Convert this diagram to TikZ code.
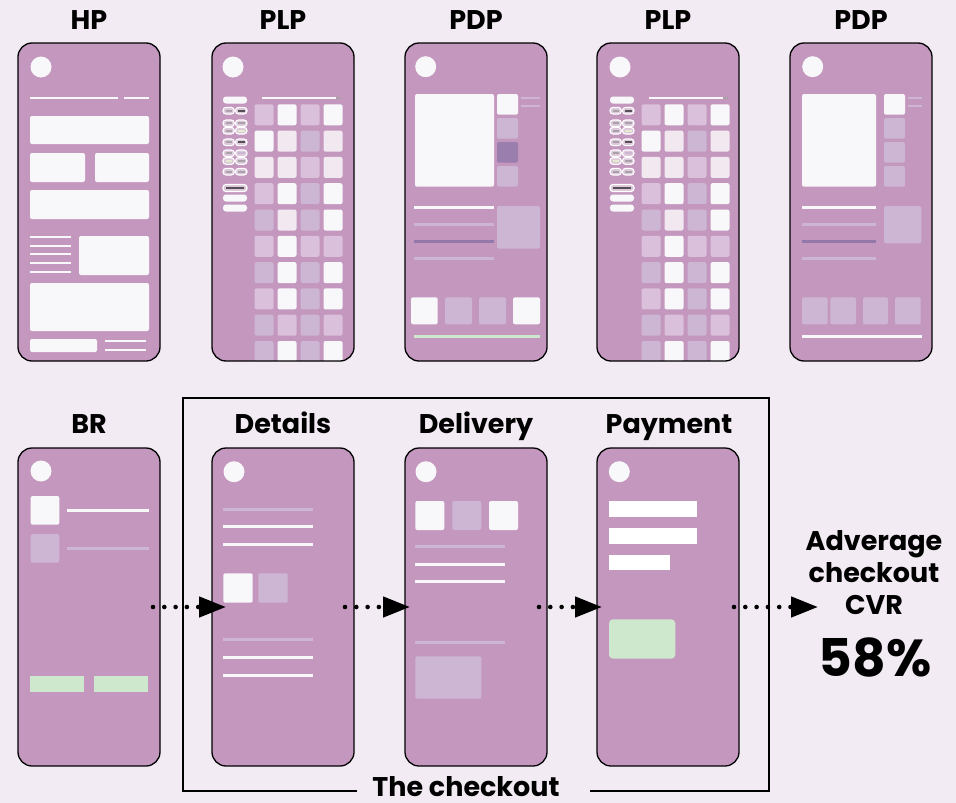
\documentclass[tikz,border=0pt]{standalone}
\usepackage{fontspec}
\setmainfont{Poppins}
\usetikzlibrary{arrows.meta,calc}
\definecolor{bgc}{HTML}{F3EBF3}
\definecolor{phc}{HTML}{C497BF}
\definecolor{wc}{HTML}{F8F8FA}
\definecolor{vc}{HTML}{CDB6D3}
\definecolor{lc}{HTML}{DAC0DA}
\definecolor{pc}{HTML}{F2E8F0}
\definecolor{gc}{HTML}{CDE8CD}
\definecolor{dc}{HTML}{9A7EAE}
\definecolor{plc}{HTML}{9478AA}
\definecolor{gyc}{HTML}{A8A2A8}
\definecolor{dgc}{HTML}{555055}
\definecolor{ygc}{HTML}{E4EDCF}
\definecolor{pin}{HTML}{DCC8DA}
\newcommand\plpcontent{%
  \fill[wc] (21,24) circle (10.5);
  \foreach \yy in {57,155,165} {\fill[wc,rounded corners=3pt] (11,\yy-3.5) rectangle (35,\yy+3.5);}
  \draw[white,line width=1.2pt,fill=pin,rounded corners=3pt] (11,141.5) rectangle (35,148.5);
  \draw[dgc,line width=2pt] (14,145) -- (32,145);
  \foreach \yy/\ca/\cb in {67.7/gyc/dgc,80.3/gyc/gyc,87.7/gyc/ygc,99.3/gyc/dgc,110.3/gyc/vc,118/ygc/gyc,128.7/gyc/gyc} {
    \draw[white,line width=1.1pt,fill=pin,rounded corners=3pt] (11,\yy-3.3) rectangle (22.3,\yy+3.3);
    \draw[white,line width=1.1pt,fill=pin,rounded corners=3pt] (23.5,\yy-3.3) rectangle (35,\yy+3.3);
    \draw[\ca,line width=1.8pt] (13.5,\yy) -- (19.8,\yy);
    \draw[\cb,line width=1.8pt] (26,\yy) -- (32.5,\yy);
  }
  \draw[wc,line width=2pt] (50,54.7) -- (124,54.7);
  \draw[gyc,line width=2pt] (124,54.7) -- (129,54.7);
  \foreach \j/\ca/\cb/\cc/\cd in {0/lc/wc/lc/wc,1/wc/pc/vc/pc,2/pc/pc/lc/pc,3/lc/wc/vc/wc,4/vc/pc/vc/wc,5/lc/wc/lc/lc,6/vc/wc/vc/wc,7/lc/wc/vc/wc,8/vc/lc/vc/lc,9/vc/wc/vc/wc} {
    \fill[\ca,rounded corners=2pt] (42.5,{61.3+26.3*\j}) rectangle ++(19,21);
    \fill[\cb,rounded corners=2pt] (65.5,{61.3+26.3*\j}) rectangle ++(19,21);
    \fill[\cc,rounded corners=2pt] (88.5,{61.3+26.3*\j}) rectangle ++(19,21);
    \fill[\cd,rounded corners=2pt] (111.5,{61.3+26.3*\j}) rectangle ++(19,21);
  }
}
\begin{document}
\begin{tikzpicture}[x=1pt,y=-1pt,
  phone/.style={draw=black,line width=1.3pt,fill=phc,rounded corners=14pt,minimum width=142pt,minimum height=318pt,inner sep=0pt,outer sep=0pt},
  border/.style={draw=black,line width=1.3pt,rounded corners=14pt},
  title/.style={font=\bfseries\fontsize{27}{31}\selectfont,anchor=base,inner sep=0pt},
  wbox/.style={fill=wc,rounded corners=2pt},
  vbox/.style={fill=vc,rounded corners=2pt},
  gbox/.style={fill=gc,rounded corners=2pt},
  wline/.style={draw=wc,line width=3pt},
  vline/.style={draw=vc,line width=3pt},
  flow/.style={draw=black,line width=4.6pt,line cap=round,dash pattern=on 0pt off 11.3pt,-{Triangle[length=27pt,width=20pt]}},
  dot/.style={fill=wc}]
\fill[bgc] (0,0) rectangle (956,803);
\useasboundingbox (0,0) rectangle (956,803);

% ---------- phones top row
\node[phone] (hp) at (89,202) {};
\node[phone,draw=none] (plp) at (283,202) {};
\node[phone] (pdp) at (476,202) {};
\node[phone,draw=none] (plpb) at (668,202) {};
\node[phone] (pdpb) at (861,202) {};
% ---------- phones bottom row
\node[phone] (br) at (89,607) {};
\node[phone] (det) at (283,607) {};
\node[phone] (del) at (476,607) {};
\node[phone] (pay) at (668,607) {};

% titles
\node[title] (thp) at (89,29) {HP};
\node[title] (tplp) at (283,29) {PLP};
\node[title] (tpdp) at (476,29) {PDP};
\node[title] (tplpb) at (668,29) {PLP};
\node[title] (tpdpb) at (861,29) {PDP};
\node[title] (tbr) at (89,433) {BR};
\node[title] (tdet) at (283,433) {Details};
\node[title] (tdel) at (476,433) {Delivery};
\node[title] (tpay) at (669,433) {Payment};

% ---------- HP
\begin{scope}[shift={(18,43)}]
  \fill[dot] (23,24) circle (10.5);
  \draw[draw=wc,line width=2pt] (12,55) -- (100,55) (106,55) -- (131,55);
  \fill[wbox] (12,73) rectangle (131,101);
  \fill[wbox] (12,110) rectangle (67,139);
  \fill[wbox] (77,110) rectangle (131,139);
  \fill[wbox] (12,147) rectangle (131,176);
  \foreach \yy in {194,203,211,220,229} {\draw[draw=wc,line width=2pt] (12,\yy) -- (53,\yy);}
  \fill[wbox] (61,193) rectangle (131,232);
  \fill[wbox] (12,240) rectangle (131,288);
  \fill[wbox] (12,296) rectangle (79,309);
  \draw[draw=wc,line width=2pt] (87,298) -- (128,298) (87,307) -- (128,307);
\end{scope}

% ---------- PLP
\begin{scope}
  \clip[rounded corners=14pt] (plp.north west) rectangle (plp.south east);
  \begin{scope}[shift={(212,43)}] \plpcontent \end{scope}
\end{scope}
\draw[border] (plp.north west) rectangle (plp.south east);
\begin{scope}
  \clip[rounded corners=14pt] (plpb.north west) rectangle (plpb.south east);
  \begin{scope}[shift={(599,43)}] \plpcontent \end{scope}
\end{scope}
\draw[border] (plpb.north west) rectangle (plpb.south east);

% ---------- PDP
\begin{scope}[shift={(405,43)}]
  \fill[dot] (20.7,23.7) circle (10.5);
  \fill[wbox] (10,51) rectangle (89,143.7);
  \fill[wbox] (92,51) rectangle (113,71.7);
  \fill[vbox] (92,75) rectangle (113,95.7);
  \fill[fill=dc,rounded corners=2pt] (92,99) rectangle (113,119.7);
  \fill[vbox] (92,123) rectangle (113,143.7);
  \draw[draw=vc,line width=2pt] (116,54.7) -- (135,54.7) (116,63) -- (135,63);
  \draw[wline] (9.3,164.7) -- (89,164.7);
  \draw[vline] (9.3,181.3) -- (89,181.3);
  \draw[draw=plc,line width=3pt] (9.3,198.3) -- (89,198.3);
  \draw[vline] (9.3,215) -- (89,215);
  \fill[vbox] (92,163) rectangle (135,205.7);
  \fill[wbox] (6,254.3) rectangle (32.7,281.3);
  \fill[vbox] (40,254.3) rectangle (67,281.3);
  \fill[vbox] (74,254.3) rectangle (101,281.3);
  \fill[wbox] (108,254.3) rectangle (135,281.3);
  \draw[draw=gc,line width=3pt] (9.3,293.3) -- (135,293.3);
\end{scope}

% ---------- PDP 2
\begin{scope}[shift={(790,43)}]
  \fill[dot] (22.7,23.7) circle (10.5);
  \fill[wbox] (12,51) rectangle (86,143.7);
  \fill[wbox] (94,51) rectangle (115,71.7);
  \fill[vbox] (94,75) rectangle (115,95.7);
  \fill[vbox] (94,99) rectangle (115,119.7);
  \fill[vbox] (94,123) rectangle (115,143.7);
  \draw[draw=vc,line width=2pt] (118.3,54.7) -- (131.7,54.7) (118.3,63) -- (131.7,63);
  \draw[wline] (12,164.7) -- (86,164.7);
  \draw[vline] (12,181.3) -- (86,181.3);
  \draw[draw=plc,line width=3pt] (12,198.3) -- (86,198.3);
  \draw[vline] (12,215) -- (86,215);
  \fill[vbox] (94,163) rectangle (131.3,200.3);
  \fill[vbox] (12,254.3) rectangle (37.7,281.3);
  \fill[vbox] (40.3,254.3) rectangle (66,281.3);
  \fill[vbox] (73,254.3) rectangle (98,281.3);
  \fill[vbox] (105,254.3) rectangle (130.7,281.3);
  \draw[wline] (12,293.3) -- (131.7,293.3);
\end{scope}

% ---------- BR
\begin{scope}[shift={(18,448)}]
  \fill[dot] (23,23) circle (10.5);
  \fill[wbox] (12.7,48) rectangle (41.3,76.7);
  \draw[wline] (49,62.3) -- (130.7,62.3);
  \fill[vbox] (12.7,86) rectangle (41.3,114.7);
  \draw[vline] (49,100) -- (130.7,100);
  \fill[fill=gc] (12.3,228) rectangle (65.7,244);
  \fill[fill=gc] (76,228) rectangle (129.7,244);
\end{scope}

% ---------- Details
\begin{scope}[shift={(212,448)}]
  \fill[dot] (22,23.7) circle (10.5);
  \draw[vline] (11.3,61) -- (101,61);
  \draw[wline] (11.3,78.7) -- (101,78.7);
  \draw[wline] (11.3,96.3) -- (101,96.3);
  \fill[wbox] (11.3,125.3) rectangle (40.7,154.7);
  \fill[vbox] (46.3,125.3) rectangle (75.7,154.7);
  \draw[vline] (11.3,191.7) -- (101,191.7);
  \draw[wline] (11.3,209.3) -- (101,209.3);
  \draw[wline] (11.3,227) -- (101,227);
\end{scope}

% ---------- Delivery
\begin{scope}[shift={(405,448)}]
  \fill[dot] (21,23.7) circle (10.5);
  \fill[wbox] (10.3,53) rectangle (39.3,82);
  \fill[vbox] (47.3,53) rectangle (76.3,82);
  \fill[wbox] (84,53) rectangle (113,82);
  \draw[vline] (10.3,98) -- (99.7,98);
  \draw[wline] (10.3,116) -- (99.7,116);
  \draw[wline] (10.3,133.7) -- (99.7,133.7);
  \draw[vline] (10.3,194) -- (99.7,194);
  \fill[vbox] (10.3,208.3) rectangle (76.3,250.7);
\end{scope}

% ---------- Payment
\begin{scope}[shift={(597,448)}]
  \fill[dot] (22.3,23.7) circle (10.5);
  \fill[fill=white] (12,53) rectangle (100,68.7);
  \fill[fill=white] (12,80) rectangle (100,95.7);
  \fill[fill=white] (12,107) rectangle (73.3,122);
  \fill[gbox,rounded corners=4pt] (12,171.3) rectangle (78.3,210.7);
\end{scope}

% ---------- checkout frame
\node[title] (tco) at (466,796) {The checkout};
\draw[line width=2pt] (357,791) -- (183,791) -- (183,398) -- (769,398) -- (769,791) -- (590,791);

% ---------- result text
\node[title] (cvr1) at (874,550) {Adverage};
\node[title] (cvr2) at (874,582) {checkout};
\node[title] (cvr3) at (874,614) {CVR};
\node[title,font=\bfseries\fontsize{52}{58}\selectfont] (pct) at (875,676) {58\%};
\coordinate (cvrend) at (818,607);

% ---------- connectors
\draw[flow] ([xshift=-7pt]br.east) -- ([xshift=14pt]det.west);
\draw[flow] ([xshift=-9pt]det.east) -- ([xshift=5pt]del.west);
\draw[flow] ([xshift=-8pt]del.east) -- ([xshift=5pt]pay.west);
\draw[flow] ([xshift=-5pt]pay.east) -- (cvrend);
\end{tikzpicture}
\end{document}
